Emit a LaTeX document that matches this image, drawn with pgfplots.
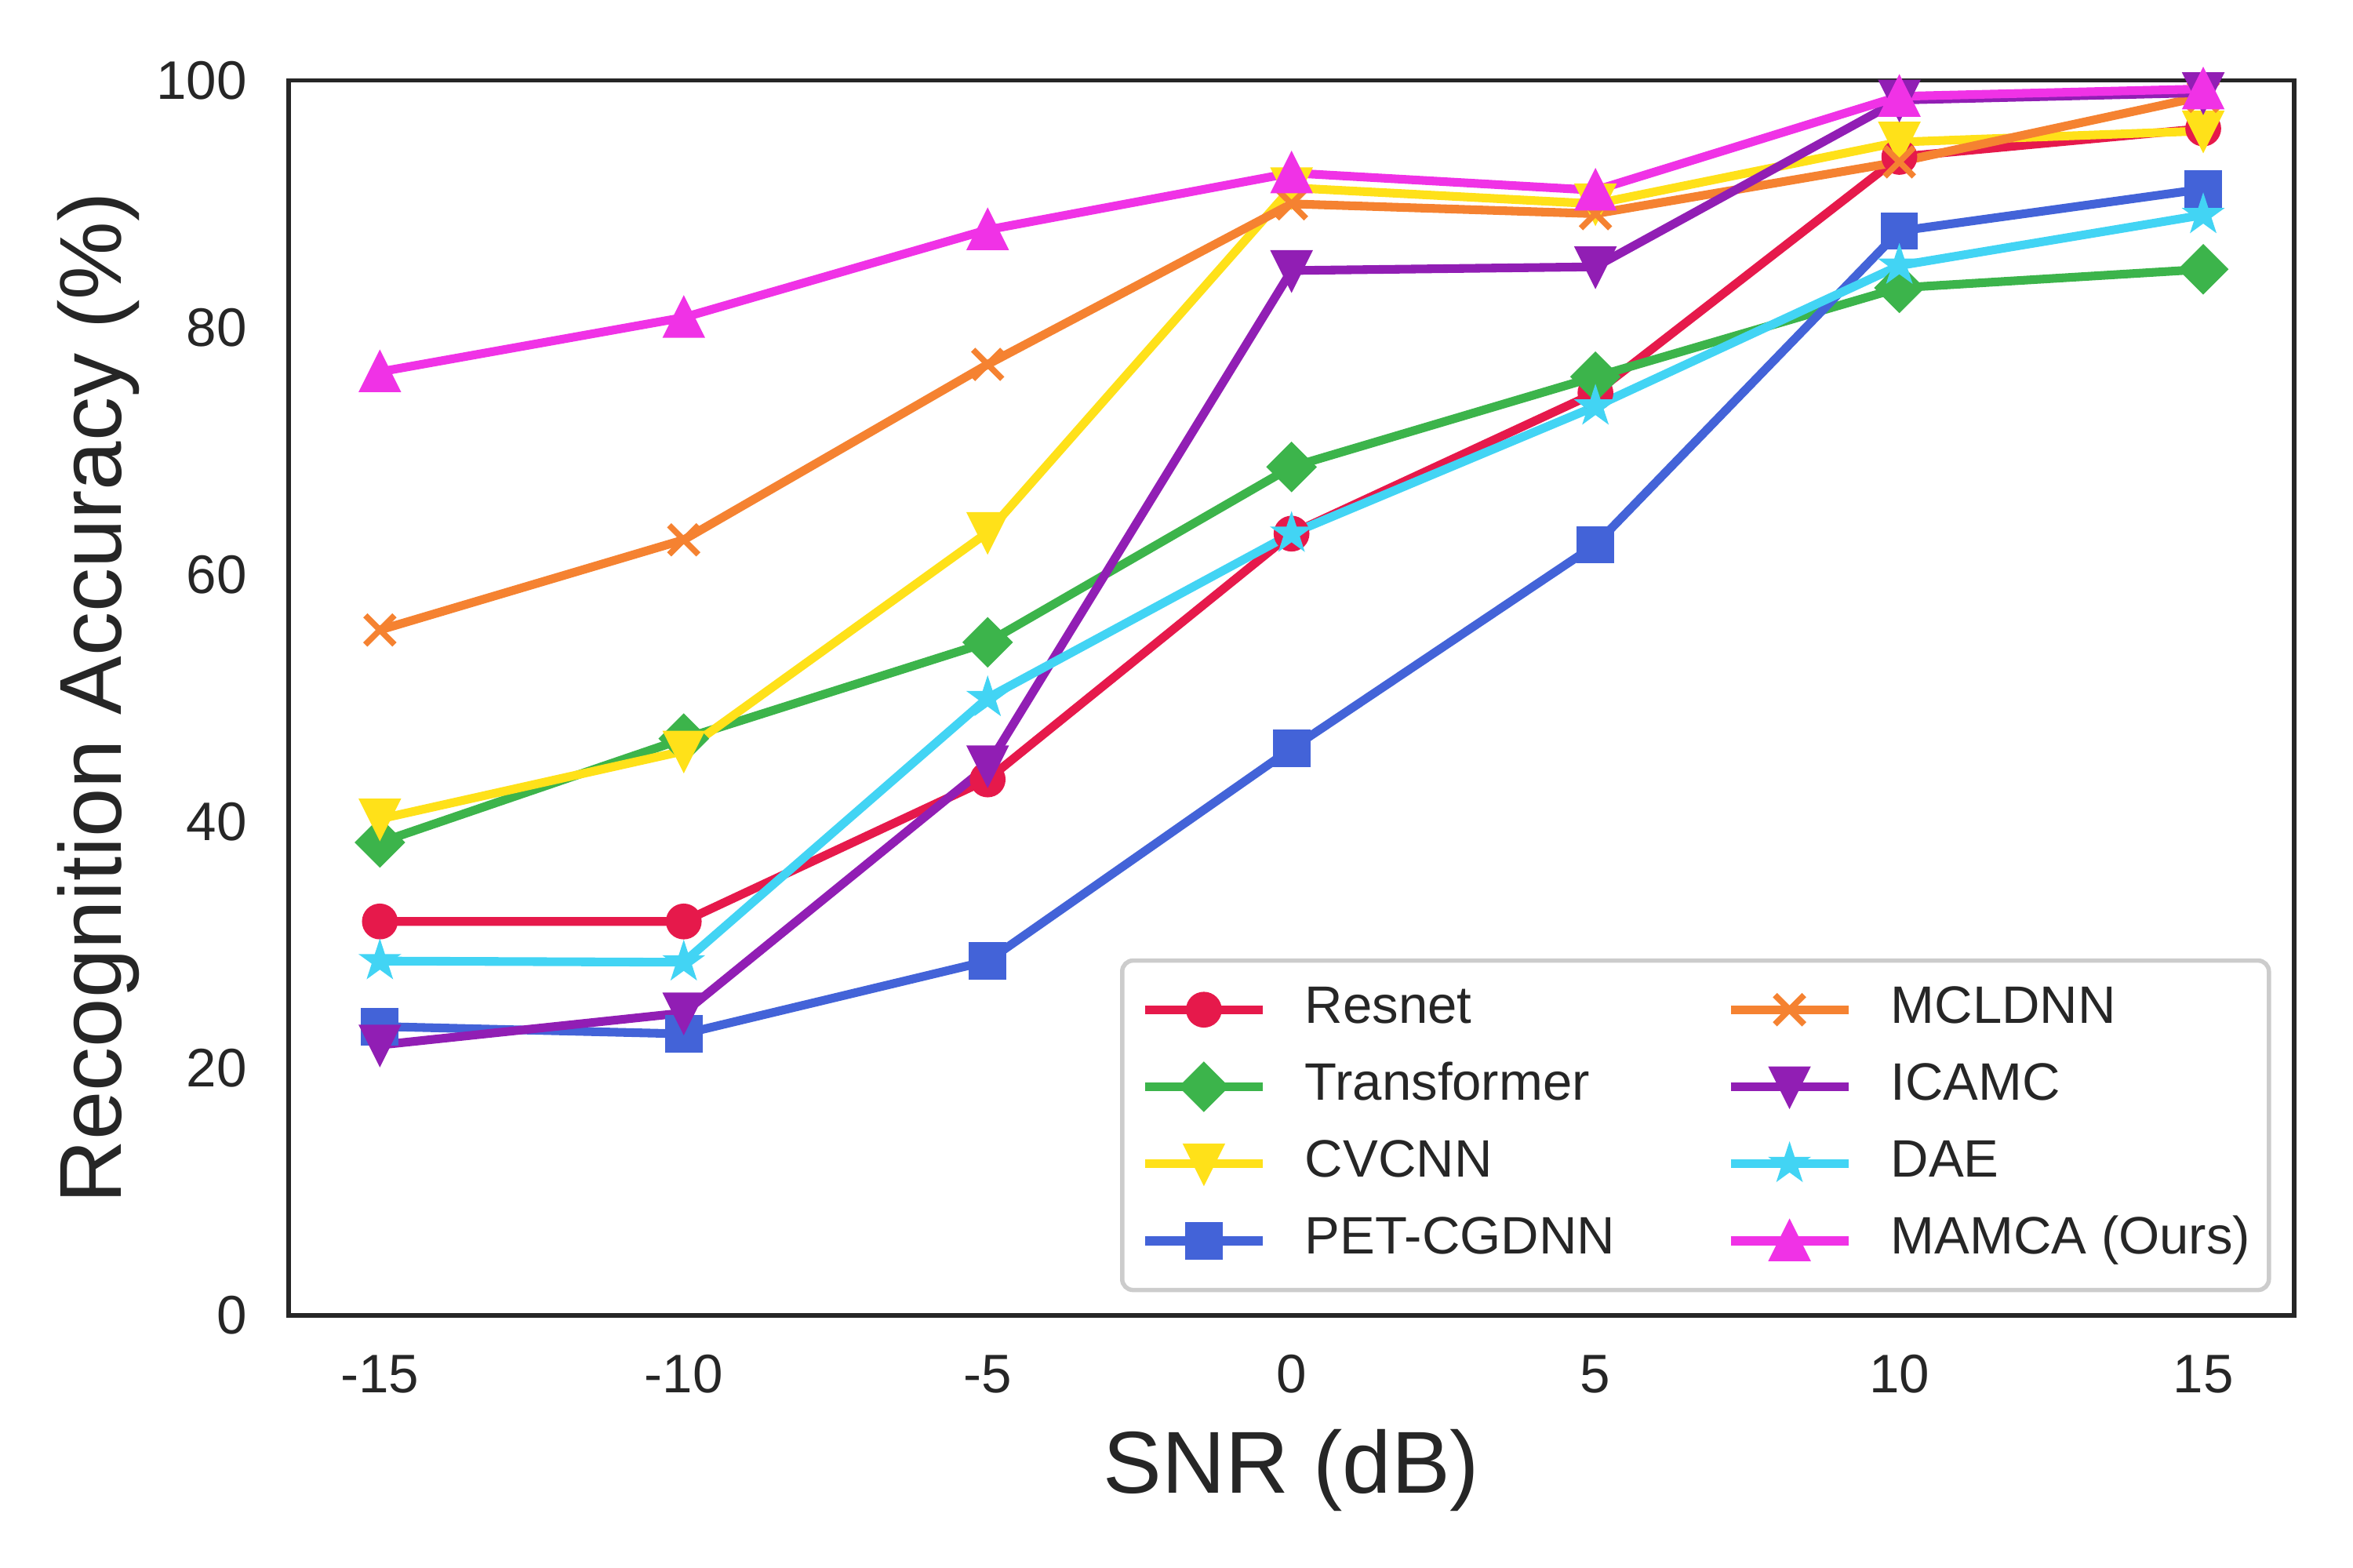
\documentclass[border=0pt]{standalone}
\usepackage{pgfplots}
\pgfplotsset{compat=1.18}
\usepackage{fontspec}
\setmainfont{Liberation Sans}
\definecolor{axc}{HTML}{262626}
\definecolor{legc}{HTML}{CCCCCC}
\definecolor{cRes}{HTML}{E6194B}
\definecolor{cTra}{HTML}{3CB44B}
\definecolor{cCVC}{HTML}{FFE119}
\definecolor{cPET}{HTML}{4363D8}
\definecolor{cMCL}{HTML}{F58231}
\definecolor{cICA}{HTML}{911EB4}
\definecolor{cDAE}{HTML}{42D4F4}
\definecolor{cMAM}{HTML}{F032E6}
\pgfdeclareplotmark{mtriup}{%
 \pgfpathmoveto{\pgfqpoint{0pt}{\pgfplotmarksize}}%
 \pgfpathlineto{\pgfqpoint{-\pgfplotmarksize}{-\pgfplotmarksize}}%
 \pgfpathlineto{\pgfqpoint{\pgfplotmarksize}{-\pgfplotmarksize}}%
 \pgfpathclose\pgfusepathqfillstroke}
\pgfdeclareplotmark{mtridown}{%
 \pgfpathmoveto{\pgfqpoint{0pt}{-\pgfplotmarksize}}%
 \pgfpathlineto{\pgfqpoint{-\pgfplotmarksize}{\pgfplotmarksize}}%
 \pgfpathlineto{\pgfqpoint{\pgfplotmarksize}{\pgfplotmarksize}}%
 \pgfpathclose\pgfusepathqfillstroke}
\pgfdeclareplotmark{mstar}{%
 \pgfpathmoveto{\pgfpointpolar{90}{\pgfplotmarksize}}%
 \pgfpathlineto{\pgfpointpolar{126}{0.382*\pgfplotmarksize}}%
 \pgfpathlineto{\pgfpointpolar{162}{\pgfplotmarksize}}%
 \pgfpathlineto{\pgfpointpolar{198}{0.382*\pgfplotmarksize}}%
 \pgfpathlineto{\pgfpointpolar{234}{\pgfplotmarksize}}%
 \pgfpathlineto{\pgfpointpolar{270}{0.382*\pgfplotmarksize}}%
 \pgfpathlineto{\pgfpointpolar{306}{\pgfplotmarksize}}%
 \pgfpathlineto{\pgfpointpolar{342}{0.382*\pgfplotmarksize}}%
 \pgfpathlineto{\pgfpointpolar{18}{\pgfplotmarksize}}%
 \pgfpathlineto{\pgfpointpolar{54}{0.382*\pgfplotmarksize}}%
 \pgfpathclose\pgfusepathqfillstroke}
\begin{document}
\begin{tikzpicture}
\path[use as bounding box] (-53.2pt,-46.5pt) rectangle (380.4pt,242.4pt);
\begin{axis}[
 at={(0,0)}, anchor=south west,
 scale only axis, width=369.6pt, height=227.6pt,
 xmin=-16.5, xmax=16.5, ymin=0, ymax=100,
 xtick={-15,-10,-5,0,5,10,15}, ytick={0,20,40,60,80,100},
 major tick length=0pt,
 axis line style={line width=0.83pt, color=axc},
 axis on top,
 /pgf/number format/assume math mode=true,
 tick label style={font=\fontsize{10}{12}\selectfont, color=axc, inner sep=0pt},
 xticklabel style={anchor=north, yshift=-7.1pt},
 yticklabel style={anchor=east, xshift=-7.5pt},
 xlabel={SNR (dB)}, ylabel={Recognition Accuracy (\%)},
 label style={font=\fontsize{16.2}{20}\selectfont, color=axc},
 xlabel style={at={([yshift=-28.5pt]rel axis cs:0.5,0)}, anchor=center},
 ylabel style={at={([xshift=-35.1pt]rel axis cs:0,0.5)}, anchor=center},
 every axis plot/.append style={line width=1.6pt},
 legend style={at={([xshift=-4.3pt,yshift=4.3pt]rel axis cs:1,0)}, anchor=south east,
   draw=legc, line width=0.8pt, rounded corners=2pt, fill=white,
   font=\fontsize{9.7}{11}\selectfont, text=axc,
   inner xsep=3.4pt, inner ysep=4.2pt, row sep=4.5pt, column sep=7pt,
   nodes={inner sep=0pt, text height=7.3pt, text depth=2.4pt},
   /tikz/every even column/.append style={column sep=20.5pt}},
 legend image post style={sharp corners},
 legend image code/.code={\draw[mark repeat=2,mark phase=2] plot coordinates {(0pt,0pt) (10.85pt,0pt) (21.7pt,0pt)};},
 legend cell align=left, legend columns=4, transpose legend,
]
\addplot[color=cRes, mark=*, mark size=3.0pt, mark options={solid, line width=0.6pt}] coordinates {
(-15,31.9) (-10,31.9) (-5,43.4) (0,63.3) (5,74.7) (10,93.8) (15,96.1)};
\addlegendentry{Resnet}
\addplot[color=cTra, mark=square*, mark size=3.0pt, mark options={solid, rotate=45, line width=0.6pt}] coordinates {
(-15,38.3) (-10,46.7) (-5,54.5) (0,68.7) (5,76.0) (10,83.2) (15,84.7)};
\addlegendentry{Transformer}
\addplot[color=cCVC, mark=mtridown, mark size=3.45pt, mark options={solid, line width=0.6pt}] coordinates {
(-15,40.2) (-10,45.7) (-5,63.4) (0,91.3) (5,90.0) (10,95.0) (15,95.9)};
\addlegendentry{CVCNN}
\addplot[color=cPET, mark=square*, mark size=3.15pt, mark options={solid, line width=0.6pt}] coordinates {
(-15,23.4) (-10,22.8) (-5,28.7) (0,45.9) (5,62.4) (10,87.8) (15,91.2)};
\addlegendentry{PET-CGDNN}
\addplot[color=cMCL, mark=x, mark size=3.8pt, mark options={solid, line width=1.1pt}] coordinates {
(-15,55.5) (-10,62.8) (-5,77.0) (0,90.0) (5,89.2) (10,93.4) (15,98.7)};
\addlegendentry{MCLDNN}
\addplot[color=cICA, mark=mtridown, mark size=3.45pt, mark options={solid, line width=0.6pt}] coordinates {
(-15,21.9) (-10,24.5) (-5,44.5) (0,84.6) (5,84.9) (10,98.4) (15,99.0)};
\addlegendentry{ICAMC}
\addplot[color=cDAE, mark=mstar, mark size=3.2pt, mark options={solid, line width=0.6pt}] coordinates {
(-15,28.7) (-10,28.6) (-5,50.0) (0,63.3) (5,73.6) (10,85.0) (15,89.1)};
\addlegendentry{DAE}
\addplot[color=cMAM, mark=mtriup, mark size=3.45pt, mark options={solid, line width=0.6pt}] coordinates {
(-15,76.4) (-10,80.8) (-5,87.9) (0,92.5) (5,91.1) (10,98.7) (15,99.3)};
\addlegendentry{MAMCA (Ours)}
\end{axis}
\end{tikzpicture}
\end{document}
